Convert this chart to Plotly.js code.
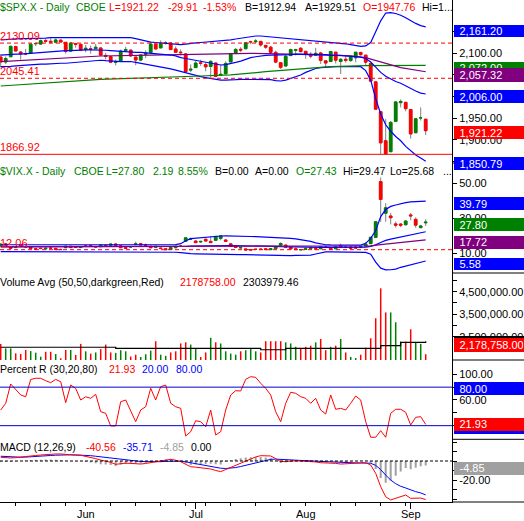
<!DOCTYPE html>
<html><head><meta charset="utf-8">
<script src="https://cdn.plot.ly/plotly-3.0.1.min.js"></script>
<style>html,body{margin:0;padding:0;background:#fff}#c{width:524px;height:521px}</style>
</head><body><div id="c"></div>
<script>
const dates = ['2015-05-06','2015-05-07','2015-05-08','2015-05-11','2015-05-12','2015-05-13','2015-05-14','2015-05-15','2015-05-18','2015-05-19','2015-05-20','2015-05-21','2015-05-22','2015-05-26','2015-05-27','2015-05-28','2015-05-29',
'2015-06-01','2015-06-02','2015-06-03','2015-06-04','2015-06-05','2015-06-08','2015-06-09','2015-06-10','2015-06-11','2015-06-12','2015-06-15','2015-06-16','2015-06-17','2015-06-18','2015-06-19','2015-06-22','2015-06-23','2015-06-24','2015-06-25','2015-06-26','2015-06-29','2015-06-30',
'2015-07-01','2015-07-02','2015-07-06','2015-07-07','2015-07-08','2015-07-09','2015-07-10','2015-07-13','2015-07-14','2015-07-15','2015-07-16','2015-07-17','2015-07-20','2015-07-21','2015-07-22','2015-07-23','2015-07-24','2015-07-27','2015-07-28','2015-07-29','2015-07-30','2015-07-31',
'2015-08-03','2015-08-04','2015-08-05','2015-08-06','2015-08-07','2015-08-10','2015-08-11','2015-08-12','2015-08-13','2015-08-14','2015-08-17','2015-08-18','2015-08-19','2015-08-20','2015-08-21','2015-08-24','2015-08-25','2015-08-26','2015-08-27','2015-08-28','2015-08-31',
'2015-09-01','2015-09-02','2015-09-03','2015-09-04'];
const monthNames = ['Jan','Feb','Mar','Apr','May','Jun','Jul','Aug','Sep','Oct','Nov','Dec'];

// $SPX.X daily
const spxOpen = [2091.26,2079.96,2092.13,2115.56,2102.87,2099.62,2100.43,2122.07,2121.30,2129.45,2127.79,2125.55,2130.36,2125.34,2105.13,2122.27,2120.66,
2108.64,2110.41,2110.64,2112.35,2095.09,2092.34,2079.07,2081.12,2106.24,2107.43,2091.34,2084.26,2097.40,2101.58,2121.06,2112.50,2123.16,2123.65,2109.96,2102.62,2098.63,2061.19,
2067.00,2078.03,2073.95,2069.52,2077.66,2049.73,2052.74,2080.03,2099.72,2109.25,2110.55,2126.80,2126.85,2127.55,2118.21,2114.16,2102.24,2078.19,2070.75,2094.70,2106.78,2111.60,
2104.49,2097.68,2095.27,2100.75,2082.61,2080.98,2102.66,2081.10,2086.19,2083.15,2089.70,2101.99,2095.69,2076.61,2034.08,1965.15,1898.08,1872.75,1942.77,1986.06,1986.73,
1970.09,1916.52,1950.79,1947.76];
const spxHigh = [2098.42,2092.90,2117.66,2117.69,2105.06,2110.19,2121.45,2123.89,2131.78,2133.02,2134.72,2134.28,2132.15,2126.22,2126.22,2122.27,2120.66,
2119.15,2117.59,2121.92,2112.89,2100.99,2093.01,2085.62,2108.50,2115.02,2107.43,2091.34,2097.40,2106.79,2126.65,2121.64,2129.87,2128.03,2125.10,2116.04,2108.92,2098.63,2074.28,
2082.78,2085.06,2078.61,2083.74,2077.66,2074.28,2081.31,2100.67,2111.98,2114.14,2124.42,2128.91,2132.82,2128.49,2118.51,2116.87,2106.01,2078.19,2095.60,2110.60,2110.48,2114.24,
2105.70,2102.51,2112.66,2103.32,2082.61,2105.35,2102.66,2089.06,2092.93,2092.45,2102.87,2103.47,2096.17,2076.61,2034.08,1965.15,1948.04,1943.09,1989.60,1993.48,1986.73,
1970.09,1948.91,1975.01,1947.76];
const spxLow = [2067.93,2074.99,2092.13,2104.58,2085.57,2096.04,2100.43,2116.81,2120.01,2124.50,2122.59,2122.95,2126.06,2099.18,2105.13,2112.86,2104.89,
2102.54,2099.14,2110.64,2093.23,2085.67,2079.11,2072.14,2081.12,2106.24,2091.33,2072.49,2082.10,2088.86,2101.58,2109.45,2112.50,2119.89,2108.58,2101.78,2095.38,2056.64,2056.32,
2067.00,2071.02,2058.40,2044.02,2044.66,2049.73,2052.74,2080.03,2098.18,2102.49,2110.55,2120.87,2123.66,2115.40,2110.00,2098.63,2077.09,2063.52,2069.09,2094.08,2094.97,2102.07,
2087.31,2088.60,2095.27,2075.53,2067.91,2080.98,2076.49,2052.09,2078.26,2080.61,2079.30,2094.14,2070.53,2035.73,1970.89,1867.01,1867.08,1872.75,1942.77,1975.19,1965.98,
1903.07,1916.52,1944.72,1911.21];
const spxClose = [2080.15,2088.00,2116.10,2105.33,2099.12,2098.48,2121.10,2122.73,2129.20,2127.83,2125.85,2130.82,2126.06,2104.20,2123.48,2120.79,2107.39,
2111.73,2109.60,2114.07,2095.84,2092.83,2079.28,2080.15,2105.20,2108.86,2094.11,2084.43,2096.29,2100.44,2121.24,2109.99,2122.85,2124.20,2108.58,2102.31,2101.49,2057.64,2063.11,
2077.42,2076.78,2068.76,2081.34,2046.68,2051.31,2076.62,2099.60,2108.95,2107.40,2124.29,2126.64,2128.28,2119.21,2114.15,2102.15,2079.65,2067.64,2093.25,2108.57,2108.63,2103.84,
2098.04,2093.32,2099.84,2083.56,2077.57,2104.18,2084.07,2086.05,2083.39,2091.54,2102.44,2096.92,2079.61,2035.73,1970.89,1893.21,1867.61,1940.51,1987.66,1988.87,1972.18,
1913.85,1948.86,1951.13,1921.22];
const spxPriorClose = 2089.46;

const spxBBUpper = [2131,2132,2133,2133,2134,2134,2134,2135,2135,2135,2136,2136,2136,2136,2136,2136,2136,2136,2136,2136,2136,2136,2136,2136,2136,2136,2136,2134,2131,2128,
2126,2125,2124,2123,2121,2121,2120,2121,2123,2124,2125,2126,2126,2128,2129,2130,2131,2133,2135,2137,2139,2140,2140,2139,2138,2137,2136,2135,2134,2133,
2132,2131,2129,2128,2127,2126,2125,2125,2124,2122,2120,2118,2116,2117,2125,2150,2175,2193,2194,2192,2188,2182,2175,2169,2164,2161.2];
const spxBBMid = [2096,2097,2097,2098,2098,2099,2100,2100,2101,2102,2103,2104,2105,2106,2106,2107,2107,2108,2108,2108,2108,2107,2106,2105,2104,2104,2103,2102,2102,2101,
2101,2100,2099,2098,2096,2094,2090,2088,2086,2084,2081,2079,2077,2075,2073,2074,2076,2079,2082,2086,2090,2092,2094,2095,2096,2096,2096,2097,2097,2098,
2098,2098,2098,2098,2097,2097,2096,2096,2095,2094,2093,2092,2091,2088,2080,2068,2056,2047,2040,2035,2031,2025,2018,2013,2008,2006];
const spxBBLower = [2069,2069,2070,2071,2072,2072,2073,2074,2075,2075,2076,2076,2077,2077,2078,2078,2079,2080,2081,2082,2084,2083,2082,2081,2081,2081,2081,2079,2077,2075,
2073,2071,2069,2067,2064,2061,2058,2054,2051,2049,2046,2044,2042,2040,2038,2038,2038,2039,2040,2040,2040,2040,2040,2040,2039,2037,2036,2038,2042,2046,
2050,2056,2061,2065,2067,2068,2069,2069,2069,2069,2069,2069,2069,2060,2038,1995,1960,1935,1920,1908,1898,1885,1874,1865,1858,1850.79];
const spxMA50Days = [0,10,20,30,40,50,60,66,70,73,76,80,85];
const spxMA50 = [2080.6,2088,2093.8,2096,2098.5,2100,2097.7,2096,2094,2090,2080,2067,2057.32];
const spxMA200Days = [0,20,40,46,53,66,73,85];
const spxMA200 = [2024.5,2040,2047.6,2050,2057.5,2069,2071.4,2072];
const spxLevelHigh = 2123.6, spxLevelMid = 2042.3, spxLevelLow = 1866.7;

// $VIX.X daily
const vixOpen = [14.3,15.4,13.6,13.5,14.6,13.7,13.4,12.6,12.9,12.6,12.9,12.8,12.2,13.2,14.0,13.7,13.3,14.2,14.4,13.9,13.8,14.6,14.5,15.3,14.3,13.2,13.6,15.0,15.5,14.8,
14.0,13.4,13.0,12.6,12.2,13.2,14.1,16.9,18.1,17.0,16.5,18.0,16.8,17.4,18.5,17.6,15.4,14.1,13.1,12.5,12.0,12.3,12.4,12.6,12.1,12.7,14.6,14.7,13.5,12.6,
12.0,12.3,12.7,12.7,12.6,13.7,12.8,12.6,14.4,13.4,13.6,13.6,13.3,14.1,15.5,19.1,51.0,32.9,31.3,26.8,26.7,26.3,31.9,29.4,24.7,27.43];
const vixHigh = [15.9,16.0,13.9,14.1,15.2,14.4,13.6,12.9,13.0,13.1,13.4,13.0,12.6,14.4,14.1,13.9,14.0,14.6,14.9,14.0,15.0,15.2,15.4,15.6,14.4,13.3,14.1,16.6,15.7,15.6,
14.1,14.0,13.1,12.9,13.3,14.3,14.6,18.9,19.0,17.4,17.1,18.5,19.7,19.9,20.1,18.0,15.5,14.3,14.0,12.6,12.3,12.6,12.8,12.9,13.0,14.1,16.3,15.0,13.7,13.2,
12.4,13.4,13.4,12.9,14.2,14.4,12.9,14.0,15.5,14.1,13.7,14.1,13.9,16.3,19.2,28.4,53.3,38.6,33.0,28.1,27.3,28.9,33.0,30.5,26.3,29.47];
const vixLow = [13.9,14.6,12.7,12.9,13.8,13.2,12.7,12.2,12.4,12.3,12.4,12.0,12.1,13.1,13.1,13.1,13.1,13.6,13.9,13.2,13.7,14.1,14.3,14.4,13.2,12.6,13.3,14.8,14.6,14.0,
13.0,13.2,12.6,12.1,12.0,12.8,13.8,16.7,17.6,15.9,15.9,16.8,15.9,17.2,17.4,16.7,13.8,13.1,12.9,11.9,11.8,11.9,12.1,11.9,12.0,12.4,14.4,13.3,12.4,12.1,
11.9,12.2,12.5,12.2,12.5,13.3,12.2,12.5,13.3,13.2,12.8,12.9,13.0,13.8,15.3,19.0,28.0,28.0,26.5,24.7,24.9,26.1,28.9,24.6,24.2,25.68];
const vixClose = [15.15,14.71,12.86,13.85,13.86,13.76,12.74,12.38,12.73,12.85,12.88,12.11,12.13,14.06,13.27,13.31,13.84,14.06,14.24,13.66,14.71,14.21,15.29,14.47,13.22,12.85,13.78,15.39,14.81,14.50,
13.19,13.96,12.74,12.11,13.26,14.01,14.02,18.85,18.23,16.09,16.79,17.01,16.09,19.66,19.97,16.83,13.90,13.37,13.23,11.95,11.95,12.25,12.22,12.12,12.64,13.74,15.60,13.44,12.50,12.13,
12.12,12.56,13.00,12.51,13.77,13.39,12.23,13.71,13.61,13.49,12.83,13.02,13.79,15.25,19.14,28.03,40.74,36.02,30.32,26.10,26.05,28.43,31.40,26.09,25.61,27.80];
const vixBBUpper = [14.9,14.9,14.9,14.9,14.9,14.9,14.9,14.9,14.9,14.9,14.9,14.9,14.9,14.9,14.9,14.9,14.9,14.9,14.9,14.9,14.9,14.9,14.9,14.9,14.9,14.9,14.9,14.9,14.9,15.0,
15.0,15.0,15.0,15.0,15.0,15.0,15.5,17.2,18.4,18.7,19.0,19.2,19.3,19.6,19.9,20.0,20.0,19.9,19.8,19.7,19.6,19.5,19.4,19.3,19.3,19.2,19.1,18.8,18.5,18.2,
17.8,17.4,16.8,16.0,15.3,14.9,14.8,14.8,14.7,14.7,14.7,14.7,14.7,15.7,18.5,23.0,31.0,35.0,36.8,37.6,38.4,39.0,39.4,39.5,39.6,39.79];
const vixBBMid = [13.6,13.6,13.6,13.6,13.6,13.6,13.6,13.6,13.6,13.6,13.6,13.6,13.6,13.6,13.6,13.6,13.6,13.6,13.6,13.6,13.6,13.6,13.6,13.6,13.6,13.6,13.6,13.6,13.6,13.6,
13.6,13.6,13.6,13.6,13.6,13.6,13.6,13.9,14.1,14.2,14.2,14.3,14.3,14.4,14.4,14.4,14.4,14.4,14.3,14.3,14.2,14.2,14.1,14.1,14.0,14.0,13.8,13.7,13.7,13.6,
13.6,13.5,13.5,13.4,13.4,13.4,13.4,13.3,13.3,13.3,13.3,13.3,13.3,13.5,14.0,14.8,16.2,17.4,18.1,18.7,19.4,20.1,20.9,21.4,21.9,22.3];
const vixBBLower = [11.0,11.0,11.0,11.0,11.0,11.0,11.0,11.0,11.0,11.0,11.0,11.0,10.6,10.6,10.6,10.6,10.6,10.6,10.6,10.6,10.6,10.6,10.6,10.6,10.6,10.6,10.6,10.6,10.6,10.6,
10.6,10.6,10.6,10.6,10.6,10.6,10.4,10.0,9.8,9.7,9.7,9.7,9.7,9.6,9.6,9.6,9.6,9.4,9.3,9.2,9.1,9.0,8.9,8.8,8.7,8.6,8.5,8.6,8.7,8.8,
8.9,9.0,9.0,9.6,10.3,10.8,10.8,10.8,10.8,10.8,10.8,10.8,10.8,10.5,9.5,5.0,1.5,0.5,0.6,1.0,2.0,2.8,3.5,4.3,5.0,5.58];
const vixMA50Days = [0,36,46,60,72,74,76,78,80,82,85];
const vixMA50 = [13.8,13.8,14.0,13.9,13.8,14.2,15.0,15.7,16.3,17.0,17.72];
const vixLevel = 12.06;

// Volume (bars) and 50-day average
const volume = [2.18e6,1.98e6,1.98e6,1.76e6,1.73e6,1.91e6,1.86e6,1.79e6,1.61e6,1.83e6,1.83e6,1.73e6,1.54e6,1.91e6,1.91e6,1.69e6,2.18e6,1.85e6,1.75e6,1.80e6,
1.95e6,2.15e6,1.80e6,1.78e6,1.90e6,1.85e6,1.62e6,1.70e6,1.60e6,1.72e6,1.88e6,2.30e6,1.70e6,1.65e6,1.80e6,1.85e6,2.20e6,2.25e6,2.15e6,1.95e6,
1.60e6,1.80e6,2.45e6,2.25e6,2.20e6,1.85e6,1.75e6,1.70e6,1.85e6,1.90e6,2.00e6,1.85e6,1.80e6,2.30e6,2.30e6,2.30e6,2.30e6,2.25e6,2.20e6,2.05e6,
2.00e6,2.05e6,2.10e6,2.25e6,2.40e6,1.90e6,2.05e6,2.10e6,2.40e6,1.80e6,1.60e6,1.55e6,1.70e6,2.01e6,2.43e6,3.32e6,4.65e6,3.58e6,3.58e6,3.14e6,
2.28e6,2.28e6,2.83e6,2.24e6,2.18e6,1.72e6];
const volAvgDays = [0,22,23,51,52,56,57,73,76,80,85];
const volAvg = [2.03e6,2.03e6,1.98e6,1.98e6,1.92e6,1.92e6,1.98e6,1.98e6,2.10e6,2.25e6,2.30e6];

// Percent R (30)
const pctR = [44.4,54.8,84.9,75.5,67.8,65,92,93.8,93.8,90,87,92,88.5,55.8,83.3,78,60,65,62.6,68.8,41.8,39.2,19.5,19.5,57.3,60,41.8,26.2,44.4,49.5,
78.2,60,80.7,83.3,54.8,49.5,47,3.9,10.6,27.7,26.2,18.4,44.4,5.5,10.6,44.4,67.8,74.5,74,92.2,96.3,95.3,86,78.2,67.8,41.8,26.2,54.8,72,70.4,
65.1,62.6,54.8,62.6,44.4,38.2,67.8,45.5,47,44.4,54.8,66.2,60,26.2,1.9,1.9,12.2,1.9,39.2,45.5,45.5,40.8,21,33,34,21.93];
const pctRUpper = 80, pctRLower = 20;

// MACD (12,26,9)
const macd = [3.9,3.5,3.2,3.5,3.9,4.6,5.3,5.8,6.3,6.9,7.4,7.4,7.4,6.8,6.3,6.1,6.0,5.0,3.9,2.5,1.0,-0.2,-1.4,-3.5,-2.5,-2.3,-2.5,-3.0,-3.2,-2.6,
-1.8,-0.8,0.4,1.2,1.8,0.8,-0.7,-3.5,-6.0,-6.5,-7.0,-7.8,-8.4,-10.0,-11.2,-9.0,-6.7,-4.2,-1.8,0.5,2.8,4.3,5.6,5.6,5.3,2.5,-0.7,-0.5,0,0.2,
0,-0.2,-0.3,-1.0,-1.8,-2.0,-1.8,-2.5,-3.2,-2.8,-2.5,-2.0,-1.8,-1.8,-4.2,-13,-27,-37.6,-41,-39.3,-37.6,-35.8,-39.3,-39.3,-39,-40.56];
const macdSignal = [5.0,4.6,4.3,4.1,4.0,4.1,4.3,4.6,5.0,5.4,5.8,6.1,6.4,6.5,6.5,6.4,6.3,6.0,5.6,5.0,4.4,3.6,2.9,2.0,1.3,0.8,0.3,-0.1,-0.5,-0.7,
-0.9,-0.8,-0.7,-0.4,-0.2,-0.1,-0.2,-0.9,-1.9,-2.8,-3.6,-4.6,-5.6,-6.6,-7.6,-7.9,-7.6,-6.9,-5.8,-4.5,-3.0,-1.6,-0.2,0.9,1.7,2.0,1.6,1.2,0.9,0.7,
0.6,0.4,0.3,0.0,-0.4,-0.7,-0.9,-1.2,-1.6,-1.8,-2.0,-2.0,-2.0,-2.0,-2.4,-4.6,-9.1,-14.8,-20.1,-23.9,-26.6,-28.4,-30.6,-32.3,-33.6,-35.71];
const macdHist = [-1.1,-1.1,-1.1,-0.6,-0.1,0.5,1.0,1.2,1.3,1.5,1.6,1.3,1.0,0.3,-0.2,-0.3,-0.3,-1.0,-1.7,-2.5,-3.4,-3.8,-4.3,-5.2,-3.8,-3.1,-2.8,-2.9,-2.7,-1.9,
-0.9,0.0,1.1,1.6,2.0,0.9,-0.5,-2.6,-4.1,-3.7,-3.4,-3.2,-2.8,-3.4,-3.6,-1.1,0.9,2.2,3.0,3.6,4.0,4.2,4.2,3.6,2.8,0.5,-2.2,-1.6,-0.9,-0.5,
-0.6,-0.6,-0.6,-1.0,-1.4,-1.3,-0.9,-1.3,-1.6,-1.0,-0.5,0.0,0.2,0.2,-1.8,-8.4,-17.9,-22.8,-20.9,-15.4,-11.0,-7.4,-8.7,-7.0,-5.4,-4.85];

// ---------- build ----------
const idx = dates.map((d, i) => i);
const dow = d => new Date(d + 'T00:00:00Z').getUTCDay();
const mon = d => new Date(d + 'T00:00:00Z').getUTCMonth();
const monthTicks = [], monthText = [], weekTicks = [];
dates.forEach((d, i) => {
  if (i > 0 && mon(d) !== mon(dates[i - 1])) { monthTicks.push(i); monthText.push(monthNames[mon(d)]); }
  if (i > 0 && dow(d) < dow(dates[i - 1])) weekTicks.push(i);
});

const GREEN = '#008000', RED = '#ff0000', BLUE = '#0000ff', PURPLE = '#800080', GREY = '#a0a0a0';
const FONT = 'Arial, "Liberation Sans", sans-serif';
const W = 452, H = 502;
const px = p => p / W, py = p => (H - p) / H;

function candles(o, h, l, c, yaxis) {
  const bodyHi = o.map((v, i) => Math.max(v, c[i]));
  const bodyLo = o.map((v, i) => Math.min(v, c[i]));
  return [
    {type: 'candlestick', x: idx, open: o, high: h, low: l, close: c, xaxis: 'x', yaxis: yaxis,
     increasing: {line: {color: '#7f7f7f', width: 1}, fillcolor: 'rgba(0,0,0,0)'},
     decreasing: {line: {color: '#7f7f7f', width: 1}, fillcolor: 'rgba(0,0,0,0)'}, whiskerwidth: 0, hoverinfo: 'skip'},
    {type: 'candlestick', x: idx, open: o, high: bodyHi, low: bodyLo, close: c, xaxis: 'x', yaxis: yaxis,
     increasing: {line: {color: GREEN, width: 1}, fillcolor: GREEN},
     decreasing: {line: {color: RED, width: 1}, fillcolor: RED}, whiskerwidth: 0, hoverinfo: 'skip'}
  ];
}
function line(x, y, color, yaxis, extra) {
  return Object.assign({type: 'scatter', mode: 'lines', x: x, y: y, xaxis: 'x', yaxis: yaxis,
    line: {color: color, width: 1.2}, connectgaps: true, hoverinfo: 'skip'}, extra || {});
}

const volColors = spxClose.map((c, i) => c >= (i === 0 ? spxPriorClose : spxClose[i - 1]) ? GREEN : RED);

const traces = [
  line(idx, spxBBUpper, BLUE, 'y'), line(idx, spxBBLower, BLUE, 'y'),
  line(spxMA200Days, spxMA200, GREEN, 'y'), line(spxMA50Days, spxMA50, PURPLE, 'y'),
  line(idx, spxBBMid, BLUE, 'y'),
  ...candles(spxOpen, spxHigh, spxLow, spxClose, 'y'),
  line(idx, vixBBUpper, BLUE, 'y2'), line(idx, vixBBLower, BLUE, 'y2'), line(idx, vixBBMid, BLUE, 'y2'),
  line(vixMA50Days, vixMA50, PURPLE, 'y2'),
  ...candles(vixOpen, vixHigh, vixLow, vixClose, 'y2'),
  {type: 'bar', x: idx, y: volume, xaxis: 'x', yaxis: 'y3', width: 0.3, marker: {color: volColors, line: {width: 0}}, hoverinfo: 'skip'},
  line(volAvgDays, volAvg, '#000000', 'y3', {line: {color: '#000', width: 1.2, shape: 'hv'}}),
  line(idx, pctR, RED, 'y4', {line: {color: RED, width: 1}}),
  {type: 'bar', x: idx, y: macdHist, xaxis: 'x', yaxis: 'y5', width: 0.4, marker: {color: GREY, line: {width: 0}}, hoverinfo: 'skip'},
  line(idx, macdSignal, BLUE, 'y5', {line: {color: BLUE, width: 1}}),
  line(idx, macd, RED, 'y5', {line: {color: RED, width: 1}})
];

const yBase = {side: 'right', anchor: 'x', showgrid: false, zeroline: false, showline: true, linecolor: '#000', linewidth: 1,
  ticks: 'outside', ticklen: 4, tickcolor: '#000', tickfont: {family: FONT, size: 11, color: '#000'}, fixedrange: true};

const layout = {
  width: 524, height: 521, margin: {l: 0, r: 72, t: 0, b: 19, pad: 0},
  paper_bgcolor: '#fff', plot_bgcolor: '#fff', showlegend: false, boxmode: 'overlay', boxgap: 0.25,
  font: {family: FONT, size: 11, color: '#000'},
  xaxis: {range: [-0.14, 90.26], anchor: 'y5', showgrid: false, zeroline: false, showline: true, linecolor: '#000', linewidth: 1,
    ticks: 'outside', ticklen: 6, tickcolor: '#000', tickvals: monthTicks, ticktext: monthTicks.map(() => ''),
    minor: {tickvals: weekTicks, ticks: 'outside', ticklen: 3, tickcolor: '#000', showgrid: false},
    rangeslider: {visible: false}, fixedrange: true},
  // tick labels that sit entirely under a value box are left blank (only the tick mark shows)
  yaxis: Object.assign({}, yBase, {domain: [py(163), 1], range: [1846.65, 2223.1], tickvals: [1850, 1900, 1950, 2000, 2050, 2100, 2150],
    ticktext: ['', '1,900.00', '1,950.00', '', '', '2,100.00', '']}),
  yaxis2: Object.assign({}, yBase, {domain: [py(273), py(163)], range: [-1.257, 61.6], tickvals: [10, 30, 50], ticktext: ['10.00', '30.00', '50.00']}),
  yaxis3: Object.assign({}, yBase, {domain: [py(360), py(273)], range: [1.4644e6, 5.331e6], tickvals: [2.5e6, 3e6, 3.5e6, 4e6, 4.5e6, 5e6],
    ticktext: ['2,500,000.00', '', '3,500,000.00', '', '4,500,000.00', '']}),
  yaxis4: Object.assign({}, yBase, {domain: [py(439.3), py(360)], range: [-1.25, 122.3], tickvals: [20, 40, 60, 80, 100],
    ticktext: ['', '', '60.00', '', '100.00']}),
  yaxis5: Object.assign({}, yBase, {domain: [0, py(439.3)], range: [-43.16, 22.84], tickvals: [-40, -30, -20, -10, 0, 10, 20],
    ticktext: ['', '', '-20.00', '', '', '', '']}),
  shapes: [], annotations: []
};

const S = layout.shapes, A = layout.annotations;
function hline(yref, v, color, dash) {
  S.push({type: 'line', xref: 'paper', x0: 0, x1: 1, yref: yref, y0: v, y1: v, line: {color: color, width: 1, dash: dash}, layer: 'above'});
}
hline('y', spxLevelHigh, RED, '4px,3px');
hline('y', spxLevelMid, RED, '4px,3px');
hline('y', spxLevelLow, RED, 'solid');
hline('y2', vixLevel, RED, '4px,3px');
hline('y4', pctRUpper, '#0000cc', 'solid');
hline('y4', pctRLower, '#0000cc', 'solid');
hline('y5', 0, '#000', '3px,2px');

// right-hand column separators
[163, 273, 360, 439.3, 502].forEach(p => S.push({type: 'line', xref: 'paper', yref: 'paper', x0: 1, x1: 524 / W, y0: py(p), y1: py(p),
  line: {color: '#000', width: 1}}));

// right-hand value boxes (drawn in order, later ones cover earlier ones)
const boxes = [
  ['2,161.20', BLUE, 25.3, 37.8], ['2,072.00', GREEN, 62, 74.5], ['2,057.32', PURPLE, 67.7, 81.3], ['2,006.00', BLUE, 90, 103.3],
  ['1,921.22', RED, 126, 139.3], ['1,850.79', BLUE, 156.7, 170],
  ['39.79', BLUE, 196.7, 210], ['27.80', GREEN, 217.7, 230.7], ['17.72', PURPLE, 235.7, 248.3], ['5.58', BLUE, 257.7, 270],
  ['', '#000', 335.8, 349.3], ['2,178,758.00', RED, 338.3, 352.3],
  ['80.00', BLUE, 382.3, 395.7], ['', BLUE, 420.5, 433.5], ['21.93', RED, 417.7, 430.3],
  ['-4.85', GREY, 461.7, 474.3]
];
boxes.forEach(b => {
  A.push({xref: 'paper', yref: 'paper', x: 454.5 / W, y: py(b[2]), xanchor: 'left', yanchor: 'top', showarrow: false,
    width: 69.5, height: b[3] - b[2], align: 'left', valign: 'middle', bgcolor: b[1], borderwidth: 0, borderpad: 0,
    text: '\u2002' + b[0], font: {family: FONT, size: 11, color: '#fff'}});
});

function txt(s, x, y, color, size) {
  A.push({xref: 'paper', yref: 'paper', x: px(x), y: py(y), xanchor: 'left', yanchor: 'middle', showarrow: false,
    text: s, font: {family: FONT, size: size || 11, color: color}, borderpad: 0, borderwidth: 0});
}
// panel titles
[['$SPX.X - Daily', 0, GREEN], ['CBOE', 76, GREEN], ['L=1921.22', 108.5, RED], ['-29.91', 168, RED], ['-1.53%', 203, RED],
 ['B=1912.94', 245, '#000'], ['A=1929.51', 305, '#000'], ['O=1947.76', 363, RED], ['Hi=1', 422, '#000'], ['...', 444, '#000']]
  .forEach(t => txt(t[0], t[1], 7.5, t[2], 10.5));
[['$VIX.X - Daily', 0, GREEN], ['CBOE', 73.5, GREEN], ['L=27.80', 105.5, GREEN], ['2.19', 153, GREEN], ['8.55%', 178, GREEN],
 ['B=0.00', 215, '#000'], ['A=0.00', 255, '#000'], ['O=27.43', 296, GREEN], ['Hi=29.47', 343, '#000'], ['Lo=25.68', 390, '#000'], ['...', 443, '#000']]
  .forEach(t => txt(t[0], t[1], 171, t[2], 10.5));
[['Volume Avg (50,50,darkgreen,Red)', 0, '#000'], ['2178758.00', 180, RED], ['2303979.46', 243, '#000']]
  .forEach(t => txt(t[0], t[1], 281.5, t[2], 10.5));
[['Percent R (30,20,80)', 0, '#000'], ['21.93', 109, RED], ['20.00', 142, BLUE], ['80.00', 176, BLUE]]
  .forEach(t => txt(t[0], t[1], 369, t[2], 10.5));
[['MACD (12,26,9)', 0, '#000'], ['-40.56', 86, RED], ['-35.71', 123, BLUE], ['-4.85', 160, GREY], ['0.00', 191, '#000']]
  .forEach(t => txt(t[0], t[1], 446.7, t[2], 10.5));
// level labels
txt('2130.09', 0, 35.7, RED); txt('2045.41', 0, 71, RED); txt('1866.92', 0, 146.7, RED); txt('12.06', 0, 242.7, RED);
// month labels under the time axis
monthTicks.forEach((k, i) => A.push({xref: 'x', yref: 'paper', x: k, y: py(513.5), xanchor: 'center', yanchor: 'middle', showarrow: false,
  text: monthText[i], font: {family: FONT, size: 11, color: '#000'}, borderpad: 0, borderwidth: 0}));

Plotly.newPlot('c', traces, layout, {staticPlot: true, displayModeBar: false});
</script></body></html>
